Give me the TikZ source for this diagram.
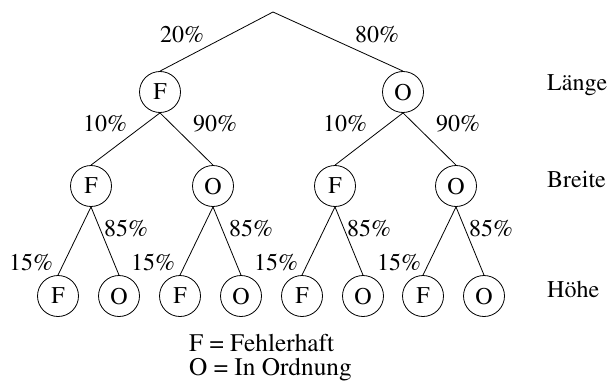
\documentclass[tikz,border=0pt]{standalone}
\usepackage[T1]{fontenc}
\usepackage{mathptmx}
\begin{document}
\begin{tikzpicture}[x=1pt,y=-1pt,
  every node/.style={font=\fontfamily{ptm}\fontsize{24}{28}\selectfont, inner sep=0pt},
  st/.style={draw, circle, minimum size=41pt, line width=0.8pt},
  pct/.style={anchor=base},
  lvl/.style={anchor=base west},
  key/.style={anchor=base west, font=\fontfamily{ptm}\fontsize{25.3}{28}\selectfont},
  edge/.style={line width=0.8pt}]
\useasboundingbox (0,0) rectangle (609,385);
\coordinate (r) at (273,12);
% level 1
\node[st] (a) at (160,92) {F};
\node[st] (b) at (403,92) {O};
% level 2
\node[st] (aa) at (91,186) {F};
\node[st] (ab) at (213,186) {O};
\node[st] (ba) at (335,186) {F};
\node[st] (bb) at (456,186) {O};
% level 3
\node[st] (aaa) at (58,296) {F};
\node[st] (aab) at (119,296) {O};
\node[st] (aba) at (180,296) {F};
\node[st] (abb) at (241,296) {O};
\node[st] (baa) at (302,296) {F};
\node[st] (bab) at (363,296) {O};
\node[st] (bba) at (423,296) {F};
\node[st] (bbb) at (484,296) {O};
% connectors
\draw[edge] (r) -- (a.north);
\draw[edge] (r) -- (b.north);
\draw[edge] (a.south) -- (aa.north);
\draw[edge] (a.south) -- (ab.north);
\draw[edge] (b.south) -- (ba.north);
\draw[edge] (b.south) -- (bb.north);
\draw[edge] (aa.south) -- (aaa.north);
\draw[edge] (aa.south) -- (aab.north);
\draw[edge] (ab.south) -- (aba.north);
\draw[edge] (ab.south) -- (abb.north);
\draw[edge] (ba.south) -- (baa.north);
\draw[edge] (ba.south) -- (bab.north);
\draw[edge] (bb.south) -- (bba.north);
\draw[edge] (bb.south) -- (bbb.north);
% percentages
\node[pct] (p1) at (182,43) {20\%};
\node[pct] (p2) at (377,43) {80\%};
\node[pct] (p3) at (105,131) {10\%};
\node[pct] (p4) at (215,131) {90\%};
\node[pct] (p5) at (345,131) {10\%};
\node[pct] (p6) at (458,131) {90\%};
\node[pct] (p7) at (126,236) {85\%};
\node[pct] (p8) at (251,236) {85\%};
\node[pct] (p9) at (369,236) {85\%};
\node[pct] (p10) at (491,236) {85\%};
\node[pct] (p11) at (31,270) {15\%};
\node[pct] (p12) at (153,270) {15\%};
\node[pct] (p13) at (276,270) {15\%};
\node[pct] (p14) at (399,270) {15\%};
% level names
\node[lvl] (l1) at (547,91) {L\"ange};
\node[lvl] (l2) at (547,187) {Breite};
\node[lvl] (l3) at (547,297) {H\"ohe};
% legend
\node[key] (k1) at (189,351) {F = Fehlerhaft};
\node[key] (k2) at (189,375) {O = In Ordnung};
\end{tikzpicture}
\end{document}
